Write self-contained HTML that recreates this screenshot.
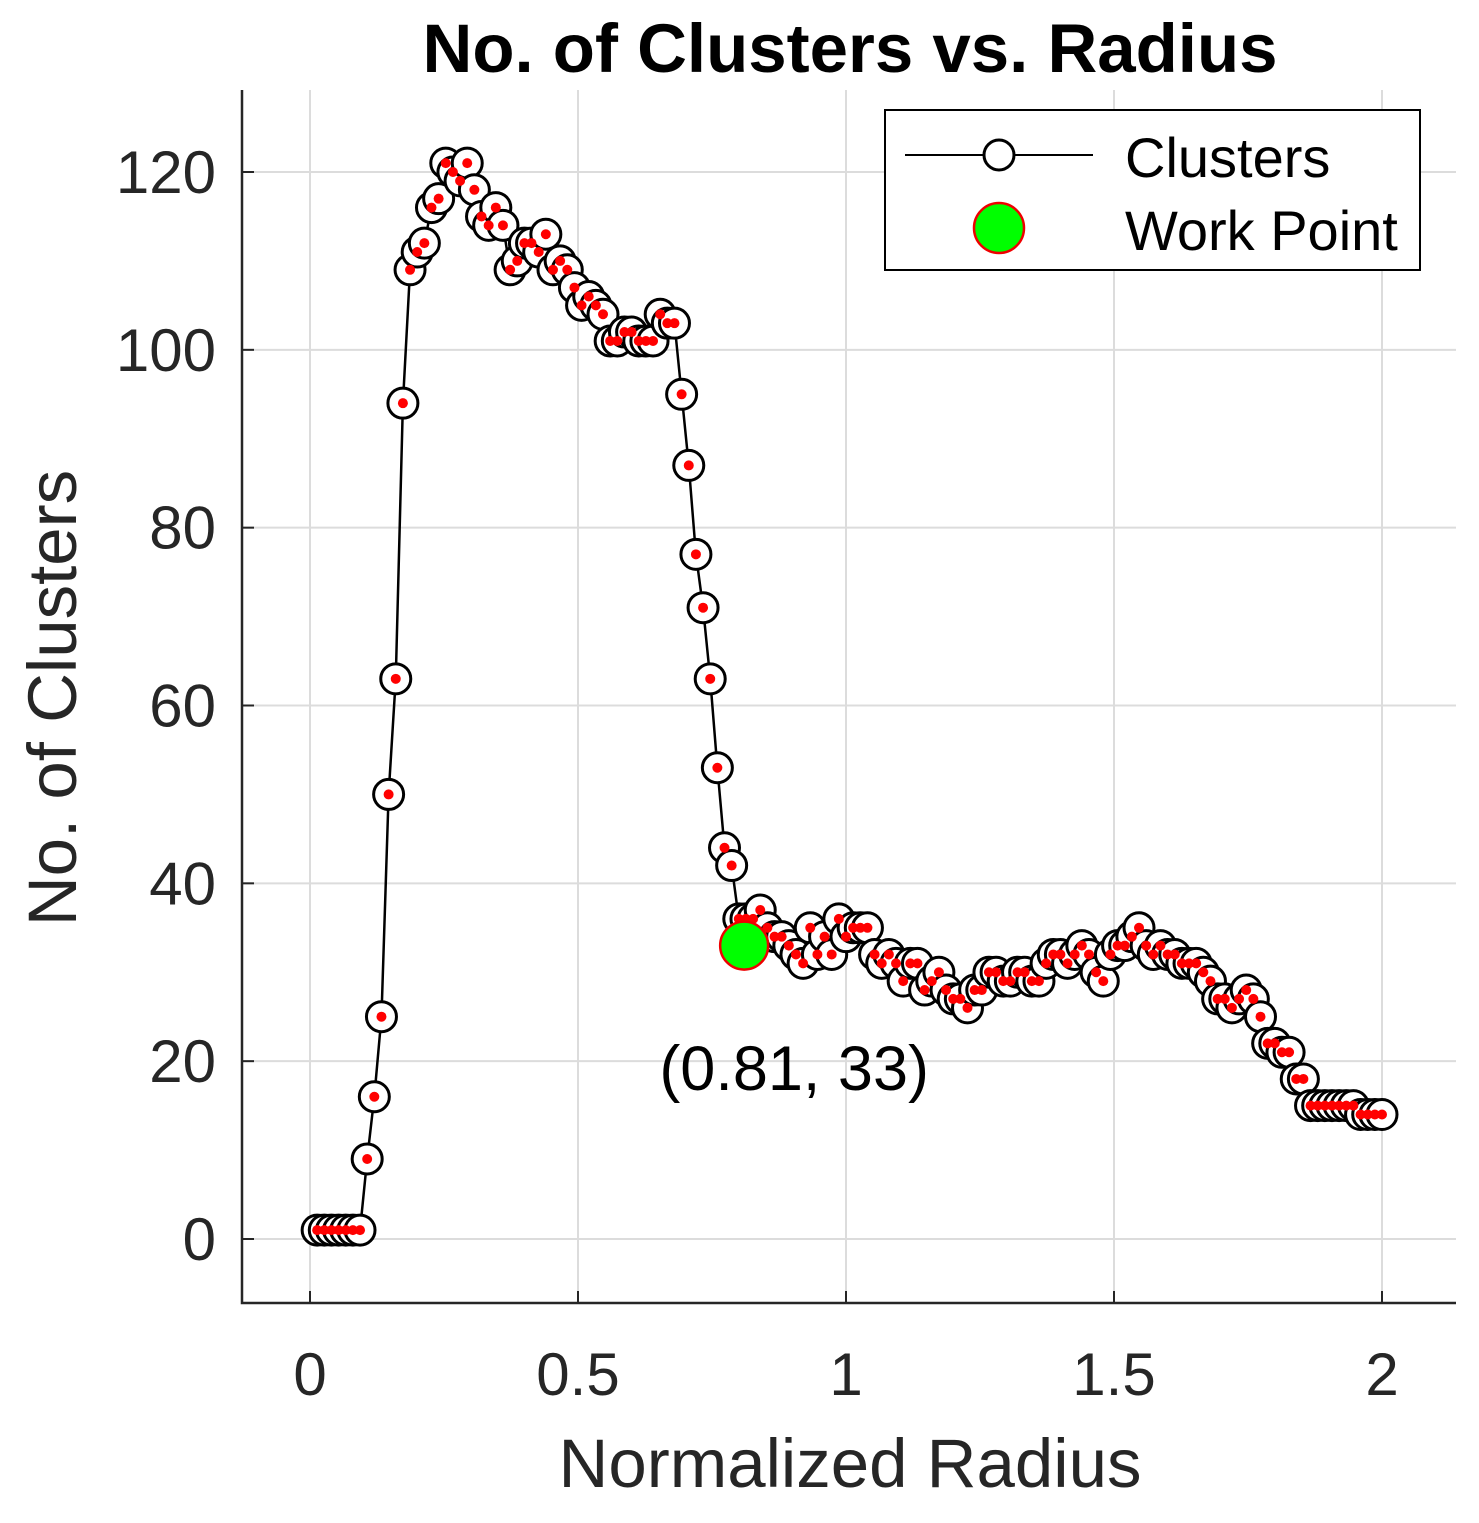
<!DOCTYPE html>
<html><head><meta charset="utf-8"><style>
body{margin:0;background:#fff}
svg text{font-family:"Liberation Sans",Arial,sans-serif;fill:#262626}
</style></head><body>
<svg id="chart" width="1479" height="1518" xmlns="http://www.w3.org/2000/svg">
<rect width="1479" height="1518" fill="#fff"/>
<g id="grid"></g>
<g id="axes"></g>
<g id="series"></g>
<text x="850" y="72" text-anchor="middle" font-size="69" font-weight="bold" style="fill:#000">No. of Clusters vs. Radius</text>
<text x="850" y="1487" text-anchor="middle" font-size="69">Normalized Radius</text>
<text transform="translate(76,698) rotate(-90)" text-anchor="middle" font-size="69">No. of Clusters</text>
<g>
<rect x="885" y="110" width="535" height="160" fill="#fff" stroke="#000" stroke-width="2"/>
<line x1="905" y1="155" x2="1093" y2="155" stroke="#000" stroke-width="2"/>
<circle cx="999" cy="155" r="15" fill="#fff" stroke="#000" stroke-width="3"/>
<text x="1125" y="177" font-size="56" style="fill:#000">Clusters</text>
<circle cx="999" cy="228" r="25" fill="#00ff00" stroke="#e00" stroke-width="2.5"/>
<text x="1125" y="250" font-size="56" style="fill:#000">Work Point</text>
</g>
</svg>
<script>
const clusterCounts = [1,1,1,1,1,1,1,9,16,25,50,63,94,109,111,112,116,117,121,120,
119,121,118,115,114,116,114,109,110,112,112,111,113,109,110,109,107,105,106,105,
104,101,101,102,102,101,101,101,104,103,103,95,87,77,71,63,53,44,42,36,
36,36,37,35,34,34,33,32,31,35,32,34,32,36,34,35,35,35,32,31,
32,31,29,31,31,28,29,30,28,27,27,26,28,28,30,30,29,29,30,30,
29,29,31,32,32,31,32,33,32,30,29,32,33,33,34,35,33,32,33,32,
32,31,31,31,30,29,27,27,26,27,28,27,25,22,22,21,21,18,18,15,
15,15,15,15,15,15,14,14,14,14];
const radiusStep = 1/75;
const workPointX = [0.81];
const workPointY = [33];
const xTicks = [0,0.5,1,1.5,2];
const xTickLabels = ["0","0.5","1","1.5","2"];
const yTicks = [0,20,40,60,80,100,120];
const yTickLabels = ["0","20","40","60","80","100","120"];

const NS="http://www.w3.org/2000/svg";
const X0=242,X1=1456,Y0=1303,Y1=90;
const xs=v=>310+536*v;
const ys=v=>1239-(1067/120)*v;
function mk(tag,attrs,parent){const e=document.createElementNS(NS,tag);for(const k in attrs)e.setAttribute(k,attrs[k]);parent.appendChild(e);return e;}
const grid=document.getElementById('grid'),axes=document.getElementById('axes'),series=document.getElementById('series'),svg=document.getElementById('chart');
xTicks.forEach((t,i)=>{
  const g=mk('line',{x1:xs(t),x2:xs(t),y1:Y1,y2:Y0,stroke:'#dcdcdc','stroke-width':2},grid);
  
  
  const tk=mk('line',{x1:xs(t),x2:xs(t),y1:Y0,y2:Y0-12,stroke:'#262626','stroke-width':2},axes);
  
  
  const l=mk('text',{x:xs(t),y:1395,'text-anchor':'middle','font-size':60},axes);
  l.textContent=xTickLabels[i];
  
  
});
yTicks.forEach((t,i)=>{
  const g=mk('line',{x1:X0,x2:X1,y1:ys(t),y2:ys(t),stroke:'#dcdcdc','stroke-width':2},grid);
  
  
  const tk=mk('line',{x1:X0,x2:X0+12,y1:ys(t),y2:ys(t),stroke:'#262626','stroke-width':2},axes);
  
  
  const l=mk('text',{x:216,y:ys(t)+21,'text-anchor':'end','font-size':60},axes);
  l.textContent=yTickLabels[i];
  
  
});
const ax=mk('path',{d:`M${X0},${Y1}V${Y0}H${X1}`,fill:'none',stroke:'#262626','stroke-width':2.5},axes);


const pts=clusterCounts.map((v,i)=>[xs((i+1)*radiusStep),ys(v)]);
const line=mk('polyline',{points:pts.map(p=>p.join(',')).join(' '),fill:'none',stroke:'#000','stroke-width':2.5},series);


pts.forEach(p=>{
  const c=mk('circle',{cx:p[0],cy:p[1],r:15,fill:'#fff',stroke:'#000','stroke-width':3},series);
  
  
});
pts.forEach(p=>{
  const d=mk('circle',{cx:p[0],cy:p[1],r:5,fill:'#ff0000'},series);
  
  
});
workPointX.forEach((wx,i)=>{
  const w=mk('circle',{cx:xs(wx),cy:ys(workPointY[i]),r:24,fill:'#00ff00',stroke:'#e00','stroke-width':2.5},series);
  
  
  const t=mk('text',{x:xs(wx)+50,y:1090,'text-anchor':'middle','font-size':63},svg);
  t.textContent='('+wx.toFixed(2)+', '+workPointY[i]+')';
  
  
  t.style.fill='#000';
});
</script>
</body></html>
